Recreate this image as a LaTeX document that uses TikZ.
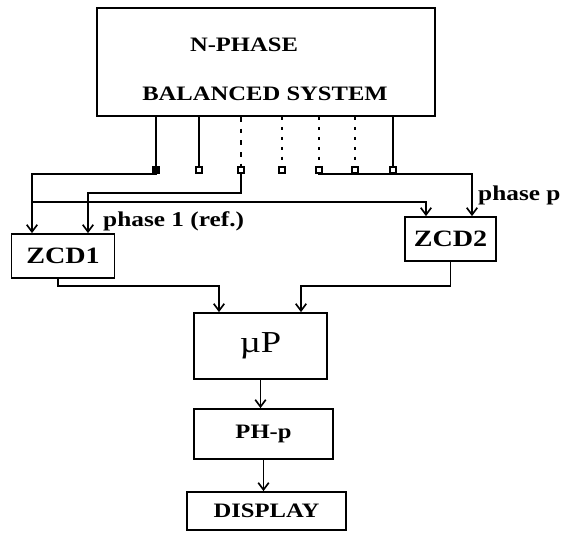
\documentclass[tikz,border=0pt]{standalone}
\usepackage{fontspec}
\newfontfamily\diagfont[FakeStretch=1.2]{Liberation Serif}
\usetikzlibrary{arrows.meta}

\begin{document}
\begin{tikzpicture}[x=0.03cm,y=-0.03cm,
  blk/.style={draw,line width=1.5pt,inner sep=0pt},
  lbl/.style={inner sep=0pt,font=\diagfont\bfseries\fontsize{17.5}{20}\selectfont},
  zlbl/.style={font=\diagfont\bfseries\fontsize{20}{22}\selectfont},
  plbl/.style={inner sep=0pt,anchor=west,font=\diagfont\bfseries\fontsize{18}{20}\selectfont},
  term/.style={draw,line width=1.3pt,fill=white,minimum size=0.17cm,inner sep=0pt},
  wire/.style={line width=1.4pt},
  arr/.style={wire,-{Straight Barb[length=6pt,width=9pt]}}]
\useasboundingbox (0,0) rectangle (564,532);
% Source block
\node[blk,minimum width=10.14cm,minimum height=3.24cm] (sys) at (266,62) {};
\node[lbl] (sysa) at (244,45) {N-PHASE};
\node[lbl] (sysb) at (265,94) {BALANCED SYSTEM};
% Phase terminals
\node[term,fill=black] (t1) at (156,170) {};
\foreach \n/\x in {2/199,3/241,4/282,5/319,6/355,7/393}
  \node[term] (t\n) at (\x,170) {};
\foreach \n in {1,2,7}
  \draw[wire] (t\n |- sys.south) -- (t\n.north);
\draw[wire,dash pattern=on 4pt off 6pt] (t3 |- sys.south) -- (t3.north);
\foreach \n in {4,5,6}
  \draw[wire,dash pattern=on 2.5pt off 6pt] (t\n |- sys.south) -- (t\n.north);
% Detectors
\node[blk,zlbl,minimum width=3.09cm,minimum height=1.32cm] (zcd1) at (63,256) {ZCD1};
\node[blk,zlbl,minimum width=2.73cm,minimum height=1.32cm] (zcd2) at (450.5,239) {ZCD2};
% Processing chain
\node[blk,minimum width=3.99cm,minimum height=1.98cm,font=\diagfont\fontsize{26}{30}\selectfont] (mup) at (260.5,346) {µP};
\node[blk,lbl,minimum width=4.17cm,minimum height=1.5cm] (php) at (263.5,434) {PH-p};
\node[blk,lbl,minimum width=4.77cm,minimum height=1.14cm] (disp) at (266.5,511) {DISPLAY};
% Phase wiring
\coordinate (k1) at (32,174);
\coordinate (k2) at (88,193);
\coordinate (k3) at (32,202);
\coordinate (k4) at (426,202);
\coordinate (k5) at (472,174);
\draw[arr] (t1.south) |- (k1) -- (k1 |- zcd1.north);
\draw[arr] (t3.south) |- (k2) -- (k2 |- zcd1.north);
\draw[arr] (k3) -- (k4) -- (k4 |- zcd2.north);
\draw[arr] (t5.south) |- (k5) -- (k5 |- zcd2.north);
\node[plbl] (lph1) at (103,221) {phase 1 (ref.)};
\node[plbl] (lphp) at (478,195) {phase p};
% Detector outputs
\coordinate (k6) at (219,286);
\coordinate (k7) at (301,286);
\draw[arr] ([xshift=-0.15cm]zcd1.south) |- (k6) -- (k6 |- mup.north);
\draw[arr] (zcd2.south) |- (k7) -- (k7 |- mup.north);
\draw[arr] (mup.south) -- (mup.south |- php.north);
\draw[arr] (php.south) -- (php.south |- disp.north);
\end{tikzpicture}
\end{document}
